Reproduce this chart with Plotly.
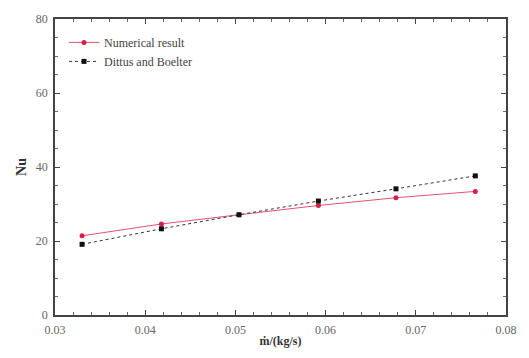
import plotly.graph_objects as go

mass_flow = [0.0330, 0.0418, 0.0504, 0.0592, 0.0678, 0.0766]
nu_numerical = [21.4, 24.6, 27.1, 29.6, 31.7, 33.4]
nu_dittus = [19.1, 23.3, 27.1, 30.8, 34.1, 37.6]

fig = go.Figure()
fig.add_trace(go.Scatter(x=mass_flow, y=nu_numerical, mode="lines+markers",
                         name="Numerical result",
                         line=dict(color="#e8506e", width=1),
                         marker=dict(color="#d6204a", size=5, symbol="circle")))
fig.add_trace(go.Scatter(x=mass_flow, y=nu_dittus, mode="lines+markers",
                         name="Dittus and Boelter",
                         line=dict(color="#333333", width=1, dash="dot"),
                         marker=dict(color="#111111", size=5, symbol="square")))

axis_common = dict(showline=True, linecolor="#444", linewidth=1.5, mirror="allticks",
                   ticks="inside", ticklen=5, tickcolor="#444", showgrid=False, zeroline=False,
                   tickfont=dict(family="Liberation Serif", size=12, color="#666"),
                   minor=dict(ticks="inside", ticklen=3, tickcolor="#666"))
fig.update_xaxes(range=[0.03, 0.08], dtick=0.01, tickformat=".2f", ticklabelstandoff=3,
                 title=dict(text="<b>ṁ/(kg/s)</b>", font=dict(family="Liberation Serif", size=12, color="#333"), standoff=0),
                 **axis_common)
fig.update_yaxes(range=[0, 80], dtick=20, ticklabelstandoff=3,
                 title=dict(text="<b>Nu</b>", font=dict(family="Liberation Serif", size=14, color="#333"), standoff=6),
                 **axis_common)
fig.update_layout(width=529, height=358, margin=dict(l=55, r=18, t=17, b=38),
                  paper_bgcolor="white", plot_bgcolor="white",
                  legend=dict(x=0.02, y=0.97, xanchor="left", yanchor="top",
                              font=dict(family="Liberation Serif", size=12, color="#444"),
                              bgcolor="rgba(0,0,0,0)", tracegroupgap=0, itemwidth=30))
fig.write_html("out.html")
